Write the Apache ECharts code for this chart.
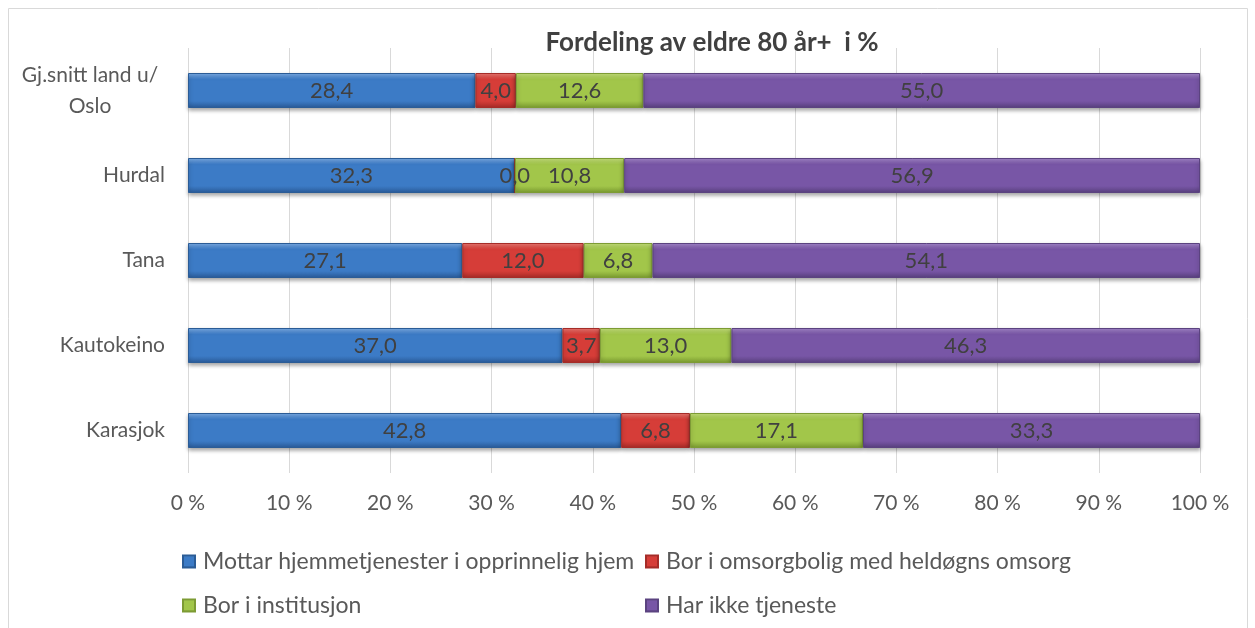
<!DOCTYPE html>
<html>
<head>
<meta charset="utf-8">
<script src="https://cdn.jsdelivr.net/npm/echarts@6/dist/echarts.min.js"></script>
<style>
  html, body { margin: 0; padding: 0; background: #fff; }
  #chart { width: 1255px; height: 628px; }
</style>
</head>
<body>
<div id="chart"></div>
<script>
// kategorier, ovenfra og ned
var kategorier = ['Gj.snitt land u/ Oslo', 'Hurdal', 'Tana', 'Kautokeino', 'Karasjok'];

var hjemmetjenester = [28.4, 32.3, 27.1, 37.0, 42.8];
var omsorgbolig = [4.0, 0.0, 12.0, 3.7, 6.8];
var institusjon = [12.6, 10.8, 6.8, 13.0, 17.1];
var ingenTjeneste = [55.0, 56.9, 54.1, 46.3, 33.3];

var serieNavn = [
    'Mottar hjemmetjenester i opprinnelig hjem',
    'Bor i omsorgbolig med heldøgns omsorg',
    'Bor i institusjon',
    'Har ikke tjeneste'
];

var xTicks = [0, 10, 20, 30, 40, 50, 60, 70, 80, 90, 100];

var chart = echarts.init(document.getElementById('chart'));
var font = 'Lato, "Open Sans", sans-serif';

// skrå "bevel"-farger som i Excel
var farge = function (lys, mid, mork) {
    return new echarts.graphic.LinearGradient(0, 0, 0, 1, [
        {offset: 0, color: lys},
        {offset: 0.18, color: mid},
        {offset: 0.8, color: mid},
        {offset: 1, color: mork}
    ], false);
};

var stiler = [
    {c: farge('#7fb2ec', '#3c7bc6', '#2a5b98'), b: '#2b5c96'},
    {c: farge('#f07a74', '#d63d38', '#a62b27'), b: '#a52c28'},
    {c: farge('#c9e57e', '#a2c64a', '#7a9a30'), b: '#7d9b34'},
    {c: farge('#a889d0', '#7856a6', '#59407e'), b: '#5b4380'}
];

var verdier = [hjemmetjenester, omsorgbolig, institusjon, ingenTjeneste];

var series = verdier.map(function (arr, i) {
    return {
        name: serieNavn[i],
        type: 'bar',
        stack: 'total',
        barWidth: 35,
        data: arr,
        itemStyle: {
            color: stiler[i].c,
            borderColor: stiler[i].b,
            borderWidth: 1,
            shadowColor: 'rgba(0,0,0,0.35)',
            shadowBlur: 4,
            shadowOffsetY: 2
        },
        label: {
            show: true,
            position: 'inside',
            color: '#404040',
            fontFamily: font,
            fontSize: 22,
            formatter: function (p) {
                return p.value.toFixed(1).replace('.', ',');
            }
        }
    };
});

var legendTekst = {color: '#595959', fontFamily: font, fontSize: 23, padding: [0, 0, 0, 3]};

var option = {
    animation: false,
    title: {
        text: 'Fordeling av eldre 80 år+  i %',
        left: 707,
        top: 25,
        textAlign: 'center',
        textStyle: {
            color: '#404040',
            fontFamily: font,
            fontWeight: 'bold',
            fontSize: 26
        }
    },
    graphic: [{
        type: 'rect',
        shape: {x: 8.5, y: 8.5, width: 1239, height: 640},
        style: {fill: 'none', stroke: '#d9d9d9', lineWidth: 1}
    }],
    legend: [
        {
            data: [serieNavn[0], serieNavn[2]],
            orient: 'vertical',
            left: 177,
            top: 545,
            itemGap: 21,
            itemWidth: 12,
            itemHeight: 12,
            icon: 'rect',
            textStyle: legendTekst
        },
        {
            data: [serieNavn[1], serieNavn[3]],
            orient: 'vertical',
            left: 640,
            top: 545,
            itemGap: 21,
            itemWidth: 12,
            itemHeight: 12,
            icon: 'rect',
            textStyle: legendTekst
        }
    ],
    grid: {
        left: 188,
        right: 55,
        top: 48,
        bottom: 155
    },
    xAxis: {
        type: 'value',
        min: xTicks[0],
        max: xTicks[xTicks.length - 1],
        interval: xTicks[1] - xTicks[0],
        axisLine: {show: false},
        axisTick: {show: false},
        splitLine: {lineStyle: {color: '#d9d9d9', width: 1}},
        axisLabel: {
            margin: 20,
            color: '#595959',
            fontFamily: font,
            fontSize: 21,
            formatter: '{value} %'
        }
    },
    yAxis: {
        type: 'category',
        inverse: true,
        data: kategorier,
        axisLine: {show: false},
        axisTick: {show: false},
        axisLabel: {
            margin: 23,
            color: '#595959',
            fontFamily: font,
            fontSize: 21,
            lineHeight: 31,
            formatter: function (v) {
                if (v.indexOf('Gj.snitt') === 0) {
                    return '{c|Gj.snitt land u/}\n{c|Oslo}';
                }
                return v;
            },
            rich: {
                c: {
                    width: 150,
                    align: 'center',
                    color: '#595959',
                    fontFamily: font,
                    fontSize: 21,
                    lineHeight: 31
                }
            }
        }
    },
    series: series
};

chart.setOption(option);
</script>
</body>
</html>
